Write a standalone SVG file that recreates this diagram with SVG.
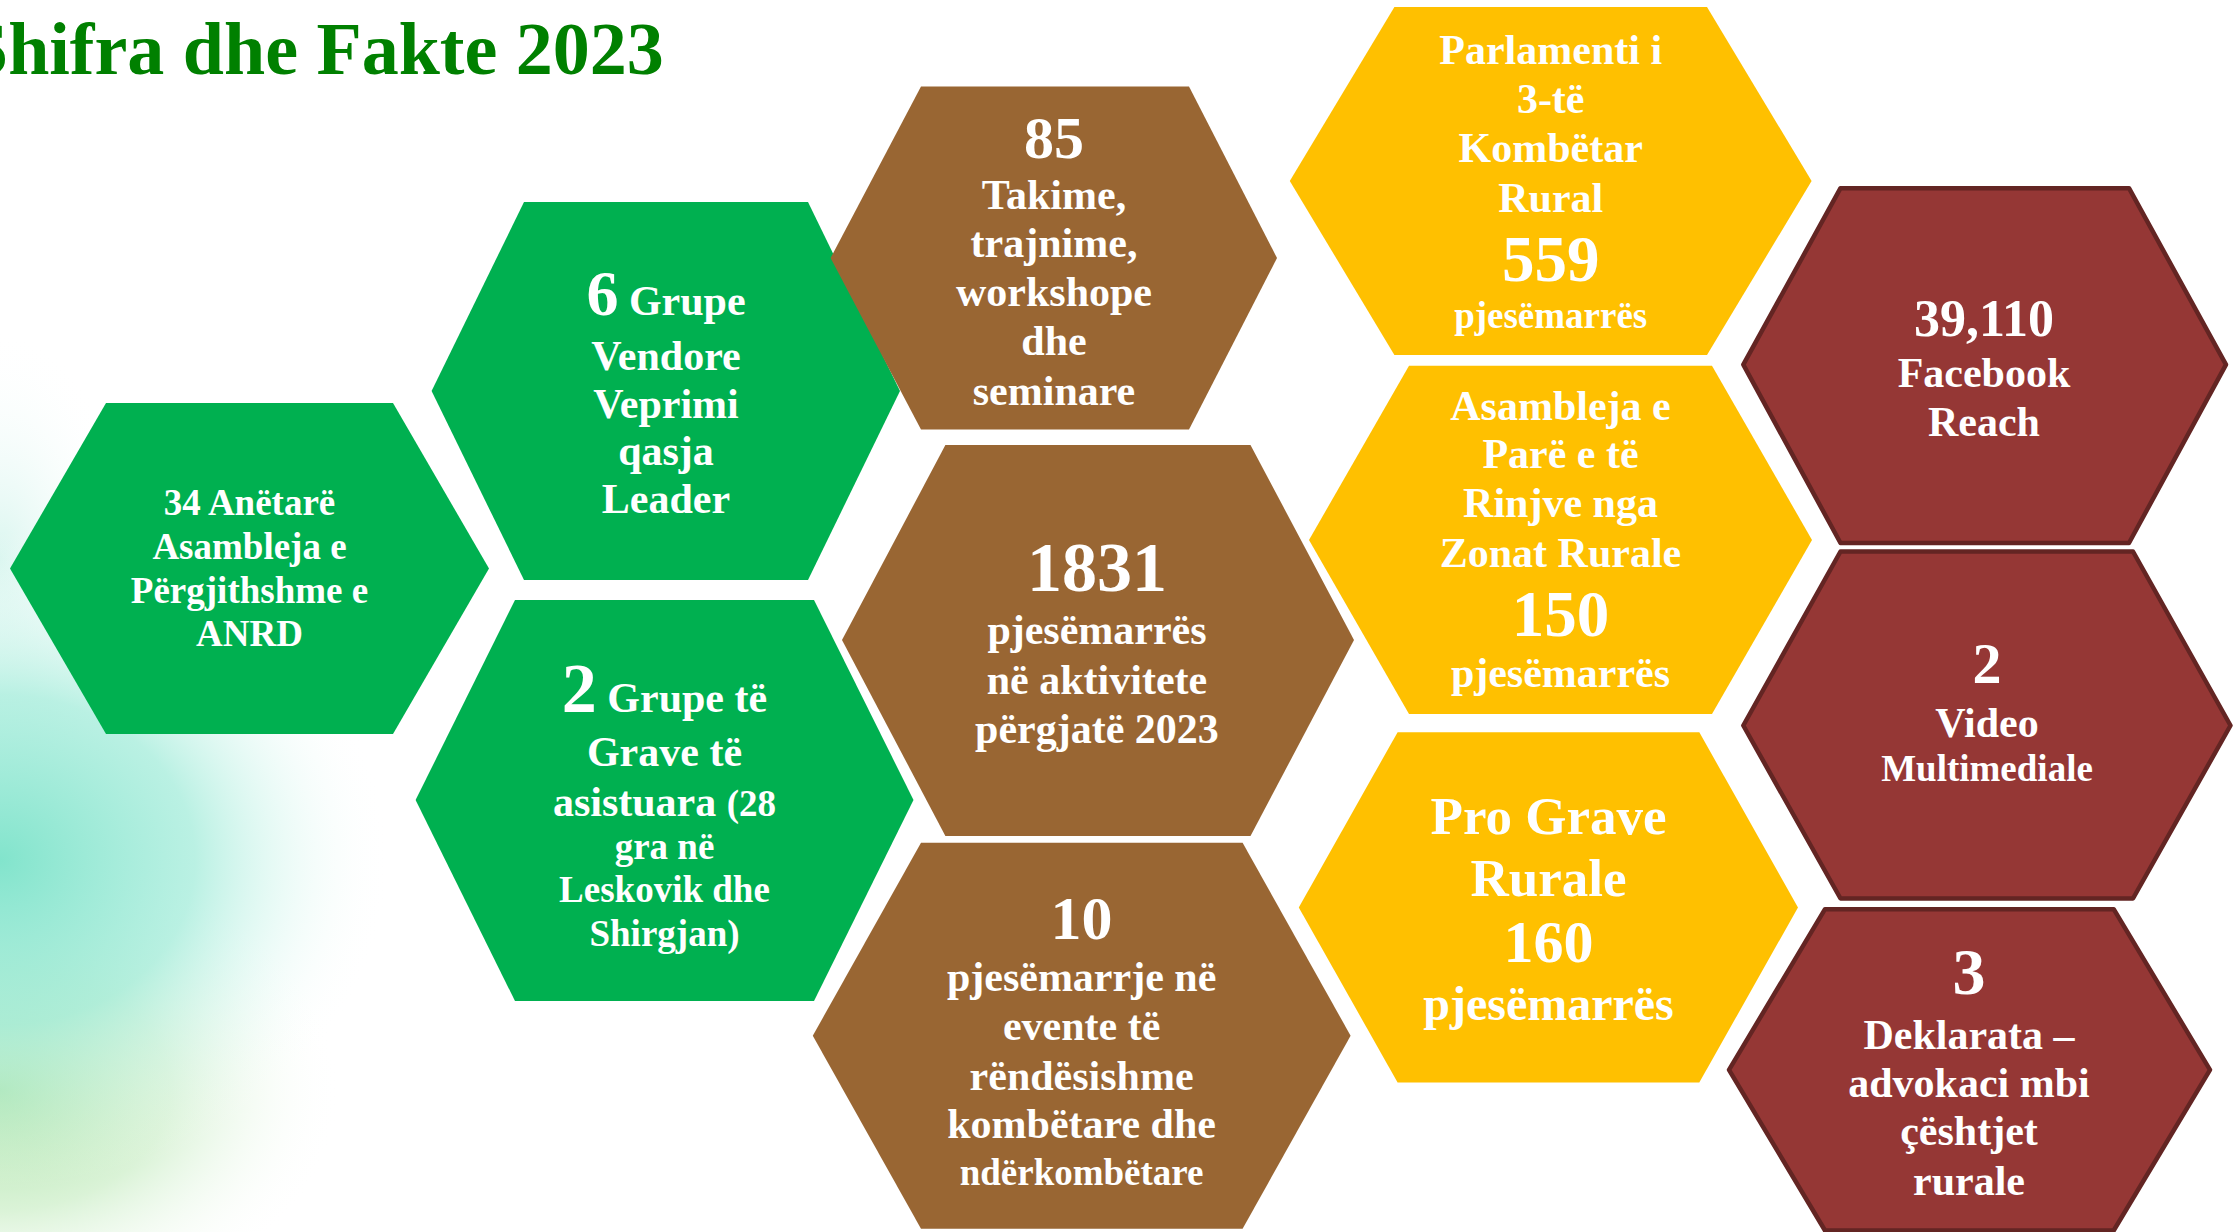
<svg xmlns="http://www.w3.org/2000/svg" width="2233" height="1232" viewBox="0 0 2233 1232">
<defs>
<radialGradient id="gTeal" cx="0.5" cy="0.5" r="0.5">
<stop offset="0" stop-color="#82e4cc" stop-opacity="1"/>
<stop offset="0.5" stop-color="#a3ecda" stop-opacity="0.75"/>
<stop offset="1" stop-color="#ffffff" stop-opacity="0"/>
</radialGradient>
<radialGradient id="gGreen" cx="0.5" cy="0.5" r="0.5">
<stop offset="0" stop-color="#9cdf9c" stop-opacity="0.95"/>
<stop offset="0.5" stop-color="#bce9b6" stop-opacity="0.55"/>
<stop offset="1" stop-color="#ffffff" stop-opacity="0"/>
</radialGradient>
<radialGradient id="gTop" cx="0.5" cy="0.5" r="0.5">
<stop offset="0" stop-color="#d2f4ec" stop-opacity="0.85"/>
<stop offset="1" stop-color="#ffffff" stop-opacity="0"/>
</radialGradient>
<style>
.t{font-family:"Liberation Serif","Times New Roman",serif;font-weight:bold;fill:#ffffff;text-anchor:middle;}
.green{fill:#00b050;}
.brown{fill:#996633;}
.yellow{fill:#ffc000;}
.red{fill:#953735;stroke:#632523;stroke-width:4.5;stroke-linejoin:round;}
.title{font-family:"Liberation Serif","Times New Roman",serif;font-weight:bold;fill:#008000;font-size:74px;}
</style>
</defs>
<rect x="0" y="0" width="2233" height="1232" fill="#ffffff"/>
<ellipse cx="0" cy="560" rx="130" ry="230" fill="url(#gTop)"/>
<ellipse cx="0" cy="1090" rx="340" ry="240" fill="url(#gGreen)"/>
<ellipse cx="0" cy="860" rx="390" ry="330" fill="url(#gTeal)"/>

<text class="title" x="-33" y="74">Shifra dhe Fakte 2023</text>

<g id="connectors"></g>

<g id="hex-anetare">
<polygon class="green" points="10,568.5 106,403 393,403 489,568.5 393,734 106,734"/>
<text class="t" font-size="37"><tspan x="249.5" y="515">34 Anëtarë</tspan><tspan x="249.5" y="559">Asambleja e</tspan><tspan x="249.5" y="603">Përgjithshme e</tspan><tspan x="249.5" y="646">ANRD</tspan></text>
</g>

<g id="hex-grupe-vendore">
<polygon class="green" points="431.6,391 524,202 808,202 900,391 808,580 524,580"/>
<text class="t" font-size="42"><tspan x="666" y="315"><tspan font-size="64">6</tspan> Grupe</tspan><tspan x="666" y="370">Vendore</tspan><tspan x="666" y="418">Veprimi</tspan><tspan x="666" y="465">qasja</tspan><tspan x="666" y="513">Leader</tspan></text>
</g>

<g id="hex-grupe-grave">
<polygon class="green" points="415.6,800 515,600 814,600 913.5,800 814,1001 515,1001"/>
<text class="t" font-size="42"><tspan x="664.5" y="712"><tspan font-size="70">2</tspan> Grupe të</tspan><tspan x="664.5" y="766">Grave të</tspan><tspan x="664.5" y="816">asistuara <tspan font-size="37">(28</tspan></tspan><tspan x="664.5" y="859" font-size="37">gra në</tspan><tspan x="664.5" y="902" font-size="37">Leskovik dhe</tspan><tspan x="664.5" y="946" font-size="37">Shirgjan)</tspan></text>
</g>

<g id="hex-takime">
<polygon class="brown" points="830.6,258 921,86.5 1189,86.5 1277,258 1189,429.5 921,429.5"/>
<text class="t" font-size="42"><tspan x="1054" y="158" font-size="60">85</tspan><tspan x="1054" y="209">Takime,</tspan><tspan x="1054" y="257">trajnime,</tspan><tspan x="1054" y="306">workshope</tspan><tspan x="1054" y="355">dhe</tspan><tspan x="1054" y="405">seminare</tspan></text>
</g>

<g id="hex-pjesemarres-1831">
<polygon class="brown" points="842,640 945.4,445 1250.5,445 1354,640 1250.5,836 945.4,836"/>
<text class="t" font-size="42"><tspan x="1097" y="591" font-size="70">1831</tspan><tspan x="1097" y="643.5">pjesëmarrës</tspan><tspan x="1097" y="693.5">në aktivitete</tspan><tspan x="1097" y="743">përgjatë 2023</tspan></text>
</g>

<g id="hex-evente">
<polygon class="brown" points="812.8,1035.7 921,842.7 1242.6,842.7 1350.6,1035.7 1242.6,1228.8 921,1228.8"/>
<text class="t" font-size="42"><tspan x="1081.6" y="938.5" font-size="62">10</tspan><tspan x="1081.6" y="991">pjesëmarrje në</tspan><tspan x="1081.6" y="1040">evente të</tspan><tspan x="1081.6" y="1090">rëndësishme</tspan><tspan x="1081.6" y="1138">kombëtare dhe</tspan><tspan x="1081.6" y="1184.5" font-size="37">ndërkombëtare</tspan></text>
</g>

<g id="hex-parlamenti">
<polygon class="yellow" points="1289.8,181 1394.4,7 1707,7 1811.6,181 1707,355 1394.4,355"/>
<text class="t" font-size="42"><tspan x="1550.7" y="64">Parlamenti i</tspan><tspan x="1550.7" y="112.7">3-të</tspan><tspan x="1550.7" y="162">Kombëtar</tspan><tspan x="1550.7" y="211.5">Rural</tspan><tspan x="1550.7" y="281" font-size="65">559</tspan><tspan x="1550.7" y="328.3" font-size="37">pjesëmarrës</tspan></text>
</g>

<g id="hex-asambleja-rinjve">
<polygon class="yellow" points="1309,540 1409,365.7 1712,365.7 1812,540 1712,714 1409,714"/>
<text class="t" font-size="42"><tspan x="1560.5" y="420">Asambleja e</tspan><tspan x="1560.5" y="467.8">Parë e të</tspan><tspan x="1560.5" y="516.8">Rinjve nga</tspan><tspan x="1560.5" y="566.6">Zonat Rurale</tspan><tspan x="1560.5" y="635.5" font-size="65">150</tspan><tspan x="1560.5" y="686.7">pjesëmarrës</tspan></text>
</g>

<g id="hex-pro-grave">
<polygon class="yellow" points="1298.8,907.4 1397.6,732.2 1699.3,732.2 1798,907.4 1699.3,1082.5 1397.6,1082.5"/>
<text class="t" font-size="53"><tspan x="1548.5" y="833.8">Pro Grave</tspan><tspan x="1548.5" y="896.3">Rurale</tspan><tspan x="1548.5" y="962" font-size="60">160</tspan><tspan x="1548.5" y="1020.4" font-size="48">pjesëmarrës</tspan></text>
</g>

<g id="hex-facebook">
<polygon class="red" points="1743.3,364.6 1840.5,188.2 2129,188.2 2226,364.6 2129,543 1840.5,543"/>
<text class="t" font-size="42"><tspan x="1984" y="335.7" font-size="52">39,110</tspan><tspan x="1984" y="386.7">Facebook</tspan><tspan x="1984" y="435.7">Reach</tspan></text>
</g>

<g id="hex-video">
<polygon class="red" points="1743.3,725.5 1840.5,551.5 2133,551.5 2230.5,725.5 2133,898.5 1840.5,898.5"/>
<text class="t" font-size="42"><tspan x="1987" y="682.5" font-size="58">2</tspan><tspan x="1987" y="736.5">Video</tspan><tspan x="1987" y="781.4" font-size="37">Multimediale</tspan></text>
</g>

<g id="hex-deklarata">
<polygon class="red" points="1729,1069.8 1825,909.2 2113.7,909.2 2210,1069.8 2113.7,1230.5 1825,1230.5"/>
<text class="t" font-size="42"><tspan x="1969" y="994.3" font-size="66">3</tspan><tspan x="1969" y="1049.3">Deklarata –</tspan><tspan x="1969" y="1097.3">advokaci mbi</tspan><tspan x="1969" y="1145">çështjet</tspan><tspan x="1969" y="1195">rurale</tspan></text>
</g>
</svg>
